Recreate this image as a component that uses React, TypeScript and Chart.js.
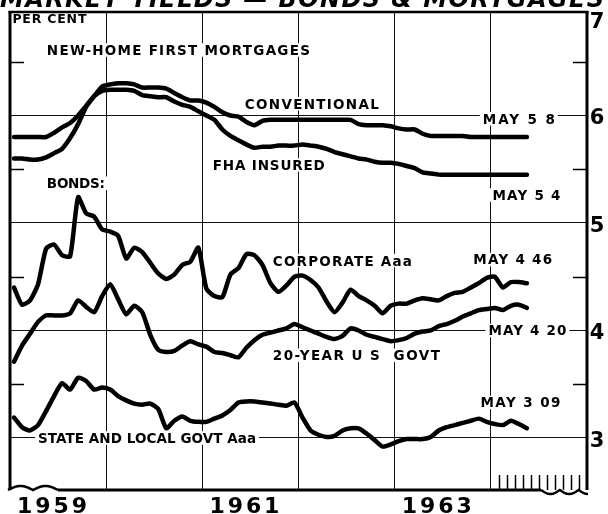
import React, { useEffect, useRef } from "react";
import { Chart, registerables } from "chart.js";

Chart.register(...registerables);

// ---- data (monthly, Jan 1959 .. May 1964) ----
const Y_MIN = 2.516;
const Y_MAX = 6.963;
const X_MAX_MONTHS = 72;

const yearGridMonths = [12, 24, 36, 48, 60];
const yearLabels = ["1959", "1961", "1963"];
const yearLabelMonths = [6, 30, 54];
const gridValues = [3, 4, 5, 6];
const axisLabels = ["3", "4", "5", "6", "7"];
const axisLabelValues = [3, 4, 5, 6, 7];
const halfTickValues = [3.5, 4.5, 5.5, 6.5];
const monthTickMonths = [61, 62, 63, 64, 65, 66, 67, 68, 69, 70, 71];

const conventional = [
  5.60, 5.60, 5.59, 5.59, 5.61, 5.65, 5.69, 5.79, 5.92, 6.08, 6.18, 6.27,
  6.29, 6.30, 6.30, 6.29, 6.26, 6.26, 6.26, 6.25, 6.21, 6.17, 6.14, 6.14,
  6.12, 6.08, 6.03, 6.00, 5.99, 5.94, 5.91, 5.95, 5.96, 5.96, 5.96, 5.96,
  5.96, 5.96, 5.96, 5.96, 5.96, 5.96, 5.96, 5.92, 5.91, 5.91, 5.91, 5.90,
  5.88, 5.87, 5.87, 5.83, 5.81, 5.81, 5.81, 5.81, 5.81, 5.80, 5.80, 5.80,
  5.80, 5.80, 5.80, 5.80, 5.80,
];

const fhaInsured = [
  5.80, 5.80, 5.80, 5.80, 5.80, 5.84, 5.89, 5.93, 6.00, 6.09, 6.18, 6.23,
  6.24, 6.24, 6.24, 6.23, 6.19, 6.18, 6.17, 6.17, 6.13, 6.10, 6.08, 6.04,
  6.00, 5.96, 5.87, 5.81, 5.77, 5.73, 5.70, 5.71, 5.71, 5.72, 5.72, 5.72,
  5.73, 5.72, 5.71, 5.69, 5.66, 5.64, 5.62, 5.60, 5.59, 5.57, 5.56, 5.56,
  5.55, 5.53, 5.51, 5.47, 5.46, 5.45, 5.45, 5.45, 5.45, 5.45, 5.45, 5.45,
  5.45, 5.45, 5.45, 5.45, 5.45,
];

const corporateAaa = [
  4.40, 4.24, 4.28, 4.43, 4.76, 4.80, 4.70, 4.69, 5.24, 5.09, 5.06, 4.94,
  4.92, 4.88, 4.67, 4.77, 4.73, 4.63, 4.53, 4.48, 4.52, 4.61, 4.64, 4.77,
  4.39, 4.32, 4.31, 4.52, 4.58, 4.71, 4.70, 4.61, 4.44, 4.36, 4.42, 4.50,
  4.51, 4.47, 4.40, 4.27, 4.17, 4.26, 4.38, 4.32, 4.28, 4.23, 4.16, 4.23,
  4.25, 4.25, 4.28, 4.30, 4.29, 4.28, 4.32, 4.35, 4.36, 4.40, 4.44, 4.49,
  4.50, 4.40, 4.45, 4.45, 4.44,
];

const usGovt20 = [
  3.71, 3.86, 3.97, 4.08, 4.14, 4.14, 4.14, 4.16, 4.28, 4.22, 4.17, 4.32,
  4.43, 4.29, 4.15, 4.23, 4.17, 3.96, 3.82, 3.80, 3.81, 3.86, 3.90, 3.87,
  3.85, 3.80, 3.79, 3.77, 3.75, 3.84, 3.91, 3.96, 3.98, 4.00, 4.02, 4.06,
  4.03, 4.00, 3.97, 3.94, 3.92, 3.95, 4.02, 4.00, 3.96, 3.94, 3.92, 3.90,
  3.91, 3.93, 3.97, 3.99, 4.00, 4.04, 4.06, 4.09, 4.13, 4.16, 4.19, 4.20,
  4.21, 4.19, 4.23, 4.24, 4.21,
];

const stateLocalAaa = [
  3.19, 3.10, 3.07, 3.12, 3.25, 3.39, 3.51, 3.45, 3.56, 3.53, 3.45, 3.47,
  3.45, 3.39, 3.35, 3.32, 3.31, 3.32, 3.27, 3.09, 3.16, 3.20, 3.16, 3.15,
  3.15, 3.18, 3.21, 3.26, 3.33, 3.34, 3.34, 3.33, 3.32, 3.31, 3.30, 3.33,
  3.19, 3.07, 3.03, 3.01, 3.02, 3.07, 3.09, 3.09, 3.04, 2.98, 2.92, 2.94,
  2.97, 2.99, 2.99, 2.99, 3.01, 3.07, 3.10, 3.12, 3.14, 3.16, 3.18, 3.15,
  3.13, 3.12, 3.16, 3.13, 3.09,
];

const titleText = "MARKET YIELDS — BONDS & MORTGAGES";

type Ann = { text: string; month: number; value: number; width: number; size?: number };
const annotations: Ann[] = [
  { text: "PER CENT", month: 0.3, value: 6.9, width: 74, size: 12.5 },
  { text: "NEW-HOME FIRST MORTGAGES", month: 4.6, value: 6.61, width: 263 },
  { text: "CONVENTIONAL", month: 29.3, value: 6.11, width: 134 },
  { text: "FHA INSURED", month: 25.3, value: 5.54, width: 112 },
  { text: "MAY 5 8", month: 59.0, value: 5.97, width: 72 },
  { text: "MAY 5 4", month: 60.2, value: 5.26, width: 68 },
  { text: "BONDS:", month: 4.6, value: 5.37, width: 58 },
  { text: "CORPORATE Aaa", month: 32.8, value: 4.65, width: 139 },
  { text: "MAY 4 46", month: 57.8, value: 4.66, width: 79 },
  { text: "MAY 4 20", month: 59.7, value: 4.0, width: 78 },
  { text: "20-YEAR U S  GOVT", month: 32.8, value: 3.77, width: 167 },
  { text: "MAY 3 09", month: 58.7, value: 3.33, width: 80 },
  { text: "STATE AND LOCAL GOVT Aaa", month: 3.5, value: 3.0, width: 218 },
];

const toPoints = (arr: number[]) => arr.map((v, i) => ({ x: i + 0.5, y: v }));

function drawSpaced(ctx: any, text: string, x: number, y: number, width: number, align: "left" | "center") {
  ctx.letterSpacing = "0px";
  const w0 = ctx.measureText(text).width;
  const ls = text.length > 1 ? (width - w0) / (text.length - 1) : 0;
  ctx.letterSpacing = `${ls}px`;
  ctx.textAlign = "left";
  const startX = align === "center" ? x - width / 2 : x;
  ctx.fillText(text, startX, y);
  ctx.letterSpacing = "0px";
}

function wave(ctx: any, x0: number, x1: number, y: number, humps: number, amp: number, up: boolean) {
  ctx.beginPath();
  const n = 60;
  for (let k = 0; k <= n; k++) {
    const t = k / n;
    const px = x0 + (x1 - x0) * t;
    const py = y + (up ? -1 : 1) * amp * Math.abs(Math.sin(Math.PI * humps * t));
    if (k === 0) ctx.moveTo(px, py);
    else ctx.lineTo(px, py);
  }
  ctx.stroke();
}

const decorPlugin = {
  id: "decor",
  beforeDatasetsDraw(chart: any) {
    const { ctx, chartArea, scales } = chart;
    const x = scales.x;
    const y = scales.y;
    ctx.save();
    ctx.strokeStyle = "#000";
    ctx.lineWidth = 1.5;
    halfTickValues.forEach((v) => {
      const py = Math.round(y.getPixelForValue(v)) + 0.5;
      ctx.beginPath();
      ctx.moveTo(chartArea.left, py);
      ctx.lineTo(chartArea.left + 14, py);
      ctx.moveTo(chartArea.right - 14, py);
      ctx.lineTo(chartArea.right, py);
      ctx.stroke();
    });
    monthTickMonths.forEach((m) => {
      const px = Math.round(x.getPixelForValue(m)) + 0.5;
      ctx.beginPath();
      ctx.moveTo(px, chartArea.bottom);
      ctx.lineTo(px, chartArea.bottom - 15);
      ctx.stroke();
    });
    annotations.forEach((a) => {
      const size = a.size ?? 13.5;
      ctx.font = `bold ${size}px "DejaVu Sans", sans-serif`;
      const px = x.getPixelForValue(a.month);
      const py = y.getPixelForValue(a.value);
      ctx.fillStyle = "#fff";
      ctx.fillRect(px - 3, py - size * 0.5, a.width + 6, size);
      ctx.fillStyle = "#000";
      ctx.textBaseline = "alphabetic";
      drawSpaced(ctx, a.text, px, py + size * 0.365, a.width, "left");
    });
    ctx.restore();
  },
  afterDraw(chart: any) {
    const { ctx, chartArea, scales } = chart;
    const x = scales.x;
    const y = scales.y;
    const { left, right, top, bottom } = chartArea;
    ctx.save();
    ctx.strokeStyle = "#000";
    ctx.lineCap = "butt";
    // frame
    ctx.lineWidth = 3;
    ctx.beginPath();
    ctx.moveTo(left, top - 1);
    ctx.lineTo(left, bottom);
    ctx.moveTo(right, top - 1);
    ctx.lineTo(right, bottom);
    ctx.stroke();
    ctx.lineWidth = 2.5;
    ctx.beginPath();
    ctx.moveTo(left - 1.5, top);
    ctx.lineTo(right + 1.5, top);
    ctx.stroke();
    // bottom axis with break waves
    ctx.lineWidth = 3;
    ctx.beginPath();
    ctx.moveTo(left + 48, bottom);
    ctx.lineTo(right - 46, bottom);
    ctx.stroke();
    ctx.lineWidth = 2.5;
    wave(ctx, left - 2, left + 48, bottom, 2, 4, true);
    wave(ctx, right - 46, right + 1, bottom, 2.5, 4, false);
    // right axis labels
    ctx.fillStyle = "#000";
    ctx.font = 'bold 21px "DejaVu Sans", sans-serif';
    ctx.textAlign = "center";
    ctx.textBaseline = "alphabetic";
    axisLabels.forEach((lab, i) => {
      const py = Math.max(y.getPixelForValue(axisLabelValues[i]), top + 7) + 1;
      ctx.fillText(lab, right + 10, py + 7.7);
    });
    // year labels
    ctx.font = 'bold 22px "DejaVu Sans", sans-serif';
    yearLabels.forEach((lab, i) => {
      const px = x.getPixelForValue(yearLabelMonths[i]);
      drawSpaced(ctx, lab, px - 6, bottom + 23, 70, "center");
    });
    // cropped title at very top
    ctx.font = 'italic bold 24px "DejaVu Sans", sans-serif';
    drawSpaced(ctx, titleText, 0, 7, 604, "left");
    ctx.restore();
  },
};

export default function App() {
  const canvasRef = useRef<HTMLCanvasElement | null>(null);

  useEffect(() => {
    const canvas = canvasRef.current;
    if (!canvas) return;
    const lineStyle = {
      borderColor: "#000",
      borderWidth: 4.5,
      pointRadius: 0,
      tension: 0.2,
      fill: false,
      borderJoinStyle: "round" as const,
      borderCapStyle: "round" as const,
    };
    const chart = new Chart(canvas, {
      type: "line",
      data: {
        datasets: [
          { label: "Conventional", data: toPoints(conventional), ...lineStyle },
          { label: "FHA insured", data: toPoints(fhaInsured), ...lineStyle },
          { label: "Corporate Aaa", data: toPoints(corporateAaa), ...lineStyle },
          { label: "20-year U.S. Govt", data: toPoints(usGovt20), ...lineStyle },
          { label: "State and local govt Aaa", data: toPoints(stateLocalAaa), ...lineStyle },
        ],
      },
      options: {
        animation: false,
        responsive: false,
        devicePixelRatio: 1,
        layout: { padding: { left: 10, right: 21, top: 12, bottom: 24 } },
        plugins: { legend: { display: false }, tooltip: { enabled: false } },
        scales: {
          x: {
            type: "linear",
            min: 0,
            max: X_MAX_MONTHS,
            afterBuildTicks: (s: any) => {
              s.ticks = yearGridMonths.map((v) => ({ value: v }));
            },
            ticks: { display: false },
            grid: { color: "#111", lineWidth: 1, drawTicks: false },
            border: { display: false },
          },
          y: {
            type: "linear",
            position: "right",
            min: Y_MIN,
            max: Y_MAX,
            afterBuildTicks: (s: any) => {
              s.ticks = gridValues.map((v) => ({ value: v }));
            },
            ticks: { display: false },
            grid: { color: "#111", lineWidth: 1, drawTicks: false },
            border: { display: false },
          },
        },
      },
      plugins: [decorPlugin],
    });
    return () => chart.destroy();
  }, []);

  return (
    <div style={{ position: "absolute", left: 0, top: 0, width: 608, height: 514, background: "#fff" }}>
      <canvas ref={canvasRef} width={608} height={514} style={{ display: "block" }} />
    </div>
  );
}
